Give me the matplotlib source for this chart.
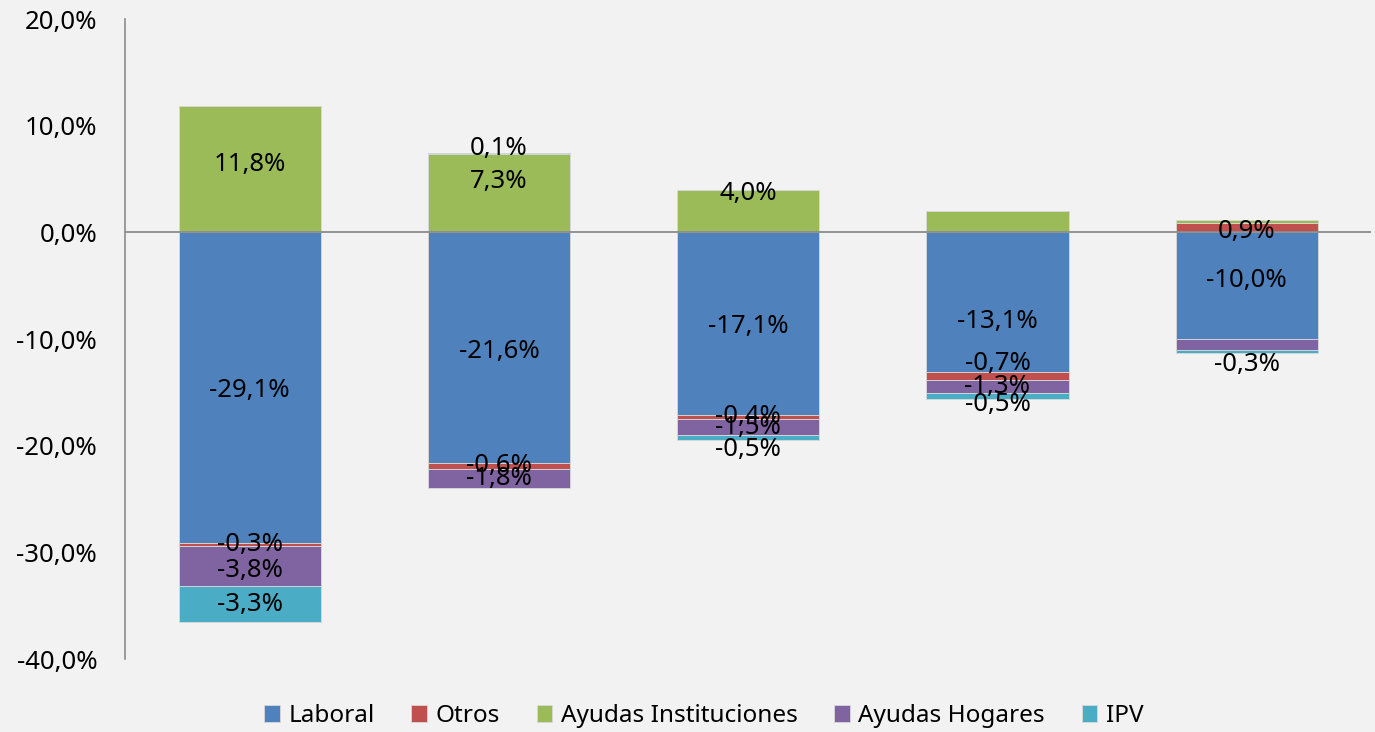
import matplotlib.pyplot as plt
import numpy as np

plt.rcParams["font.family"] = ["Noto Sans", "DejaVu Sans"]

# data (in %)
series = ["Laboral", "Otros", "Ayudas Instituciones", "Ayudas Hogares", "IPV"]
laboral = [-29.1, -21.6, -17.1, -13.1, -10.0]
otros = [-0.3, -0.6, -0.4, -0.7, 0.9]
ayudas_inst = [11.8, 7.3, 4.0, 2.0, 0.3]
ayudas_hog = [-3.8, -1.8, -1.5, -1.3, -1.0]
ipv = [-3.3, 0.1, -0.5, -0.5, -0.3]
values = [laboral, otros, ayudas_inst, ayudas_hog, ipv]
colors = ["#4F81BD", "#C0504D", "#9BBB59", "#8064A2", "#4BACC6"]

# labels not shown in the reference (series index, bar index)
hidden = {(2, 3), (2, 4), (3, 4)}
# label nudges in pixels (positive = down), mimics Excel's label placement
nudge = {(2, 0): -5, (0, 0): 3, (3, 0): 4, (4, 1): -5, (2, 1): -12, (0, 1): 4,
         (2, 2): -18, (0, 2): 3, (4, 2): 12, (0, 3): 19, (1, 3): -12,
         (4, 3): 8, (1, 4): 4, (0, 4): -5, (4, 4): 13}

fig = plt.figure(figsize=(13.75, 7.32), dpi=100)
fig.patch.set_facecolor("#F2F2F2")
ax = fig.add_axes([0.0909, 0.0997, 0.9065, 0.8743])
ax.set_facecolor("#F2F2F2")

x = np.arange(len(laboral))
pos_bottom = np.zeros(len(x))
neg_bottom = np.zeros(len(x))
for si, (name, vals, col) in enumerate(zip(series, values, colors)):
    vals = np.array(vals)
    bottom = np.where(vals >= 0, pos_bottom, neg_bottom)
    ax.bar(x, vals, 0.57, bottom=bottom, color=col, edgecolor="#D9D9D9",
           linewidth=0.6, label=name, zorder=3)
    for bi, v in enumerate(vals):
        if (si, bi) in hidden:
            continue
        yc = bottom[bi] + v / 2
        off = -nudge.get((si, bi), 0) * 0.72
        ax.annotate(f"{v:.1f}%".replace(".", ","), (x[bi], yc),
                    xytext=(0, off), textcoords="offset points",
                    ha="center", va="center", fontsize=18.5, color="black",
                    zorder=5)
    pos_bottom = pos_bottom + np.where(vals >= 0, vals, 0)
    neg_bottom = neg_bottom + np.where(vals < 0, vals, 0)

ax.axhline(0, color="#8C8C8C", linewidth=1.3, zorder=4)
ax.set_xlim(-0.5, 4.5)
ax.set_ylim(-40, 20)
ax.set_yticks(np.arange(-40, 21, 10))
ax.set_yticklabels([f"{t:.1f}%".replace(".", ",") for t in np.arange(-40, 21, 10)],
                   fontsize=18.5)
ax.tick_params(axis="y", length=0, pad=20)
ax.set_xticks([])
for s in ["top", "right", "bottom"]:
    ax.spines[s].set_visible(False)
ax.spines["left"].set_color("#8C8C8C")
ax.spines["left"].set_linewidth(1.2)

ax.legend(loc="center", bbox_to_anchor=(0.4645, -0.089), ncol=5,
          frameon=False, fontsize=17.5, handlelength=0.65, handleheight=0.65,
          handletextpad=0.35, columnspacing=1.5)

fig.savefig("out.png", dpi=100, facecolor=fig.get_facecolor())
